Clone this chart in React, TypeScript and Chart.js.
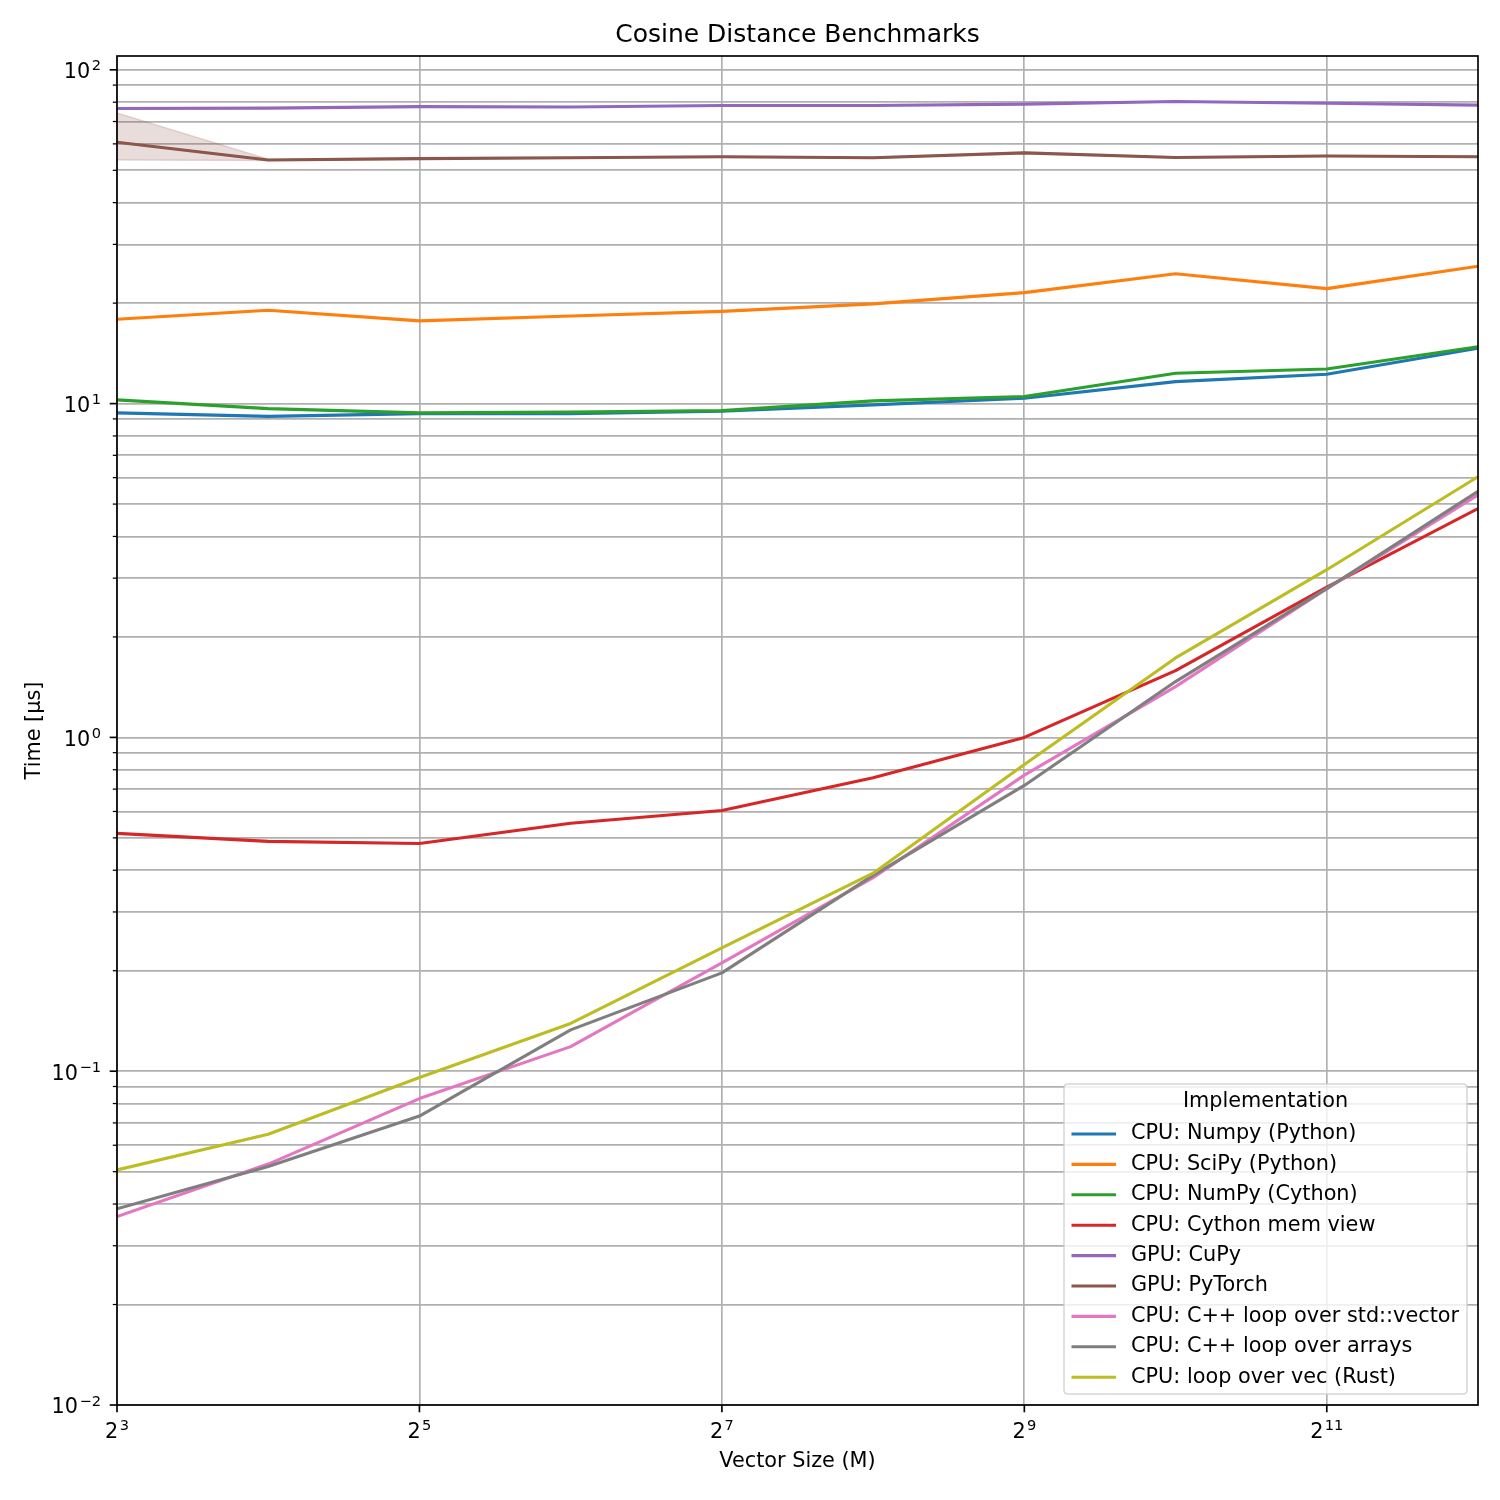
import React, { useEffect, useRef } from "react";
import { Chart, registerables } from "chart.js";

Chart.register(...registerables);

const FONT = '"DejaVu Sans", "Liberation Sans", sans-serif';

// Vector sizes (M): 2^3 .. 2^12
const sizes = [8, 16, 32, 64, 128, 256, 512, 1024, 2048, 4096];
const xTickValues = [8, 32, 128, 512, 2048];
const xTickBase = ["2", "2", "2", "2", "2"];
const xTickExp = ["3", "5", "7", "9", "11"];
const yMajorValues = [0.01, 0.1, 1, 10, 100];
const yTickBase = ["10", "10", "10", "10", "10"];
const yTickExp = ["−2", "−1", "0", "1", "2"];

const chartTitle = "Cosine Distance Benchmarks";
const xTitle = "Vector Size (M)";
const yTitle = "Time [µs]";
const legendTitle = "Implementation";

// Times in µs
const numpyPython = [9.38, 9.16, 9.33, 9.33, 9.49, 9.91, 10.38, 11.64, 12.25, 14.66];
const scipyPython = [17.9, 19.05, 17.7, 18.3, 18.9, 19.9, 21.5, 24.5, 22.1, 25.8];
const numpyCython = [10.26, 9.66, 9.38, 9.43, 9.53, 10.19, 10.5, 12.33, 12.7, 14.8];
const cythonMemView = [0.516, 0.488, 0.481, 0.553, 0.604, 0.757, 1.0, 1.585, 2.82, 4.85];
const gpuCupy = [76.6, 76.8, 77.6, 77.4, 78.2, 78.2, 78.9, 80.4, 79.4, 78.4];
const gpuPytorch = [60.7, 53.7, 54.2, 54.5, 54.9, 54.5, 56.4, 54.6, 55.2, 54.9];
const gpuPytorchUpper = [74.3, 54.0, 54.4, 54.7, 55.1, 54.7, 56.7, 54.8, 55.4, 55.1];
const gpuPytorchLower = [53.7, 53.5, 54.0, 54.3, 54.7, 54.3, 56.1, 54.4, 55.0, 54.7];
const cppVector = [0.0367, 0.0527, 0.0828, 0.1185, 0.211, 0.38, 0.771, 1.42, 2.79, 5.33];
const cppArrays = [0.0387, 0.0518, 0.0734, 0.133, 0.197, 0.386, 0.718, 1.47, 2.79, 5.46];
const rustVec = [0.0506, 0.0647, 0.0957, 0.139, 0.234, 0.392, 0.829, 1.73, 3.18, 6.04];

const seriesLabels = [
  "CPU: Numpy (Python)",
  "CPU: SciPy (Python)",
  "CPU: NumPy (Cython)",
  "CPU: Cython mem view",
  "GPU: CuPy",
  "GPU: PyTorch",
  "CPU: C++ loop over std::vector",
  "CPU: C++ loop over arrays",
  "CPU: loop over vec (Rust)",
];
const seriesValues = [
  numpyPython,
  scipyPython,
  numpyCython,
  cythonMemView,
  gpuCupy,
  gpuPytorch,
  cppVector,
  cppArrays,
  rustVec,
];
const seriesColors = [
  "#1f77b4",
  "#ff7f0e",
  "#2ca02c",
  "#d62728",
  "#9467bd",
  "#8c564b",
  "#e377c2",
  "#7f7f7f",
  "#bcbd22",
];

const toPoints = (vals: number[]) => sizes.map((x, i) => ({ x, y: vals[i] }));

const BASE_FS = 20.8;
const SUP_FS = 14.6;
const SUP_RAISE = 7.7;
const SUP_GAP = 1.4;

function measurePower(ctx: CanvasRenderingContext2D, base: string, exp: string) {
  ctx.font = `${BASE_FS}px ${FONT}`;
  const wb = ctx.measureText(base).width;
  ctx.font = `${SUP_FS}px ${FONT}`;
  const we = ctx.measureText(exp).width;
  return { wb, we, total: wb + SUP_GAP + we };
}

function drawPower(ctx: CanvasRenderingContext2D, base: string, exp: string, left: number, baseline: number) {
  ctx.textAlign = "left";
  ctx.textBaseline = "alphabetic";
  ctx.fillStyle = "#000";
  ctx.font = `${BASE_FS}px ${FONT}`;
  const wb = ctx.measureText(base).width;
  ctx.fillText(base, left, baseline);
  ctx.font = `${SUP_FS}px ${FONT}`;
  ctx.fillText(exp, left + wb + SUP_GAP, baseline - SUP_RAISE);
}

const decorPlugin = {
  id: "mplDecor",
  afterDraw(chart: any) {
    const { ctx, chartArea: a } = chart;
    const xs = chart.scales.x;
    const ys = chart.scales.y;
    ctx.save();
    // tick marks
    ctx.strokeStyle = "#000";
    for (const t of ys.ticks) {
      const py = ys.getPixelForValue(t.value);
      const major = yMajorValues.some((v) => Math.abs(v - t.value) / v < 1e-6);
      ctx.lineWidth = major ? 1.67 : 1.25;
      const len = major ? 7.3 : 4.2;
      ctx.beginPath();
      ctx.moveTo(a.left - len, py);
      ctx.lineTo(a.left, py);
      ctx.stroke();
    }
    for (const t of xs.ticks) {
      const px = xs.getPixelForValue(t.value);
      ctx.lineWidth = 1.67;
      ctx.beginPath();
      ctx.moveTo(px, a.bottom);
      ctx.lineTo(px, a.bottom + 7.3);
      ctx.stroke();
    }
    // tick labels (base with superscript exponent)
    xTickValues.forEach((v, i) => {
      const px = xs.getPixelForValue(v);
      const m = measurePower(ctx, xTickBase[i], xTickExp[i]);
      drawPower(ctx, xTickBase[i], xTickExp[i], px - m.total / 2, a.bottom + 32.7);
    });
    yMajorValues.forEach((v, i) => {
      const py = ys.getPixelForValue(v);
      const m = measurePower(ctx, yTickBase[i], yTickExp[i]);
      drawPower(ctx, yTickBase[i], yTickExp[i], a.left - 16 - m.total, py + 8.3);
    });

    // spines
    ctx.lineWidth = 1.67;
    ctx.strokeStyle = "#000";
    ctx.strokeRect(a.left, a.top, a.right - a.left, a.bottom - a.top);

    // legend (lower right, inside axes)
    const fs = 20.8;
    const boxW = 403;
    const boxH = 310;
    const bx = a.right - 11 - boxW;
    const by = a.bottom - 11 - boxH;
    const r = 4;
    ctx.beginPath();
    ctx.moveTo(bx + r, by);
    ctx.lineTo(bx + boxW - r, by);
    ctx.quadraticCurveTo(bx + boxW, by, bx + boxW, by + r);
    ctx.lineTo(bx + boxW, by + boxH - r);
    ctx.quadraticCurveTo(bx + boxW, by + boxH, bx + boxW - r, by + boxH);
    ctx.lineTo(bx + r, by + boxH);
    ctx.quadraticCurveTo(bx, by + boxH, bx, by + boxH - r);
    ctx.lineTo(bx, by + r);
    ctx.quadraticCurveTo(bx, by, bx + r, by);
    ctx.closePath();
    ctx.fillStyle = "rgba(255,255,255,0.8)";
    ctx.fill();
    ctx.strokeStyle = "rgba(204,204,204,0.8)";
    ctx.lineWidth = 1.5;
    ctx.stroke();

    ctx.font = `${fs}px ${FONT}`;
    ctx.fillStyle = "#000";
    ctx.textBaseline = "middle";
    ctx.textAlign = "center";
    ctx.fillText(legendTitle, bx + boxW / 2, by + 18);

    const legendItems = chart.data.datasets.filter((d: any) => !String(d.label).startsWith("_"));
    const rowStart = by + 50;
    const rowStep = 30.4;
    ctx.textAlign = "left";
    legendItems.forEach((d: any, i: number) => {
      const cy = rowStart + i * rowStep;
      ctx.strokeStyle = d.borderColor;
      ctx.lineWidth = 3.1;
      ctx.beginPath();
      ctx.moveTo(bx + 7.5, cy);
      ctx.lineTo(bx + 52, cy);
      ctx.stroke();
      ctx.fillStyle = "#000";
      ctx.fillText(d.label, bx + 67, cy);
    });
    ctx.restore();
  },
};

export default function App() {
  const canvasRef = useRef<HTMLCanvasElement | null>(null);

  useEffect(() => {
    if (!canvasRef.current) return;
    Chart.defaults.font.family = FONT;
    Chart.defaults.color = "#000";

    const n = seriesLabels.length;
    const lineSets = seriesLabels.map((label, i) => ({
      label,
      data: toPoints(seriesValues[i]),
      borderColor: seriesColors[i],
      backgroundColor: seriesColors[i],
      borderWidth: 3.1,
      pointRadius: 0,
      pointHoverRadius: 0,
      tension: 0,
      fill: false,
      borderJoinStyle: "round" as const,
      order: n - i,
    }));

    const bandSets = [
      {
        label: "_pytorchUpper",
        data: toPoints(gpuPytorchUpper),
        borderColor: "rgba(140,86,75,0.2)",
        backgroundColor: "rgba(140,86,75,0.2)",
        borderWidth: 1.5,
        pointRadius: 0,
        tension: 0,
        fill: "+1",
        order: 100,
      },
      {
        label: "_pytorchLower",
        data: toPoints(gpuPytorchLower),
        borderColor: "rgba(140,86,75,0.2)",
        backgroundColor: "rgba(140,86,75,0.2)",
        borderWidth: 1.5,
        pointRadius: 0,
        tension: 0,
        fill: false,
        order: 101,
      },
    ];

    const tickFont = { size: 20.8, family: FONT };

    const chart = new Chart(canvasRef.current, {
      type: "line",
      data: { datasets: [...bandSets, ...lineSets] as any },
      plugins: [decorPlugin],
      options: {
        responsive: false,
        animation: false,
        devicePixelRatio: 1,
        layout: { padding: { left: 0, right: 22, top: 0, bottom: 0 } },
        plugins: {
          legend: { display: false },
          tooltip: { enabled: false },
          title: {
            display: true,
            text: chartTitle,
            fullSize: false,
            color: "#000",
            font: { size: 25, family: FONT, weight: "normal" },
            padding: { top: 20, bottom: 6 },
          },
        },
        scales: {
          x: {
            type: "logarithmic",
            min: 8,
            max: 4096,
            afterBuildTicks: (scale: any) => {
              scale.ticks = xTickValues.map((v) => ({ value: v }));
            },
            afterFit: (scale: any) => {
              scale.height = 95;
            },
            ticks: { display: false, autoSkip: false },
            grid: { color: "#b0b0b0", lineWidth: 1.67, drawTicks: false },
            border: { display: false },
            title: {
              display: true,
              text: xTitle,
              color: "#000",
              font: tickFont,
              padding: { top: 0, bottom: 26 },
            },
          },
          y: {
            type: "logarithmic",
            min: 0.01,
            max: 110,
            afterBuildTicks: (scale: any) => {
              const t: { value: number }[] = [];
              for (let e = -2; e <= 1; e++) {
                for (let k = 1; k <= 9; k++) t.push({ value: k * Math.pow(10, e) });
              }
              t.push({ value: 100 });
              scale.ticks = t;
            },
            afterFit: (scale: any) => {
              scale.width = 117;
            },
            ticks: { display: false, autoSkip: false },
            grid: { color: "#b0b0b0", lineWidth: 1.67, drawTicks: false },
            border: { display: false },
            title: {
              display: true,
              text: yTitle,
              color: "#000",
              font: tickFont,
              padding: { top: 22, bottom: 0 },
            },
          },
        },
      } as any,
    });

    return () => chart.destroy();
  }, []);

  return (
    <div style={{ position: "absolute", left: 0, top: 0, width: 1500, height: 1500, background: "#fff" }}>
      <canvas ref={canvasRef} width={1500} height={1500} style={{ display: "block" }} />
    </div>
  );
}
